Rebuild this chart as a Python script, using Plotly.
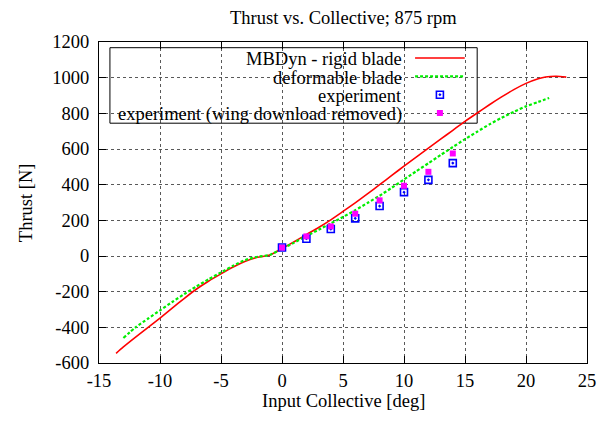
import plotly.graph_objects as go

# ---------------- data ----------------
rigid_x = [-13.6, -13, -12, -11, -10, -9, -8, -7, -6, -5, -4, -3, -2, -1, 0, 1, 2, 3, 4, 5,
           6, 7, 8, 9, 10, 11, 12, 13, 14, 15, 16, 17, 18, 19, 20, 21, 21.6, 22.5, 23.3]
rigid_y = [-546, -510, -455, -402, -348, -292, -237, -185, -140, -100, -62, -30, -7, 5, 42, 80, 120, 160, 203, 250,
           298, 348, 400, 452, 504, 555, 605, 655, 705, 755, 802, 848, 892, 933, 968, 994, 1004, 1008, 1003]

deform_x = [-13, -12, -11, -10, -9, -8, -7, -6, -5, -4, -3, -2, -1, 0, 1, 2, 3, 4, 5, 6, 7, 8,
            9, 10, 11, 12, 13, 14, 15, 16, 17, 18, 19, 20, 21, 21.9]
deform_y = [-460, -400, -352, -305, -258, -213, -170, -130, -92, -55, -22, -4, 6, 40, 75, 112, 147, 183, 219, 257, 297, 338,
            383, 429, 475, 520, 566, 611, 655, 697, 738, 775, 808, 839, 864, 886]

exp_x = [0, 2, 4, 6, 8, 10, 12, 14]
exp_y = [48, 97, 151, 211, 280, 358, 427, 521]

exp_wdr_x = [0, 2, 4, 6, 8, 10, 12, 14]
exp_wdr_y = [47, 110, 166, 237, 312, 394, 472, 575]

series_names = ["MBDyn - rigid blade", "deformable blade", "experiment",
                "experiment (wing download removed)"]

x_ticks = [-15, -10, -5, 0, 5, 10, 15, 20, 25]
x_tick_text = ["-15", "-10", "-5", "0", "5", "10", "15", "20", "25"]
y_ticks = [-600, -400, -200, 0, 200, 400, 600, 800, 1000, 1200]
y_tick_text = ["-600", "-400", "-200", "0", "200", "400", "600", "800", "1000", "1200"]

title_text = "Thrust vs. Collective; 875 rpm"
x_title = "Input Collective [deg]"
y_title = "Thrust [N]"

# ---------------- layout geometry ----------------
# page body adds an 8px offset, so the figure is shifted accordingly
OFF = 8
W, H = 600, 415
L, R, T, B = 99, 590, 42.3, 363.3          # plot area in window pixels
FONT = "Liberation Serif"
FS = 18.5


def px(xp):
    return (xp - L) / (R - L)


def py(yp):
    return (B - yp) / (B - T)


RED = "#ff0000"
GREEN = "#00ee00"
BLUE = "#0000ff"
MAG = "#ff00ff"

fig = go.Figure()
fig.add_trace(go.Scatter(x=rigid_x, y=rigid_y, mode="lines", name=series_names[0],
                         line=dict(color=RED, width=1.6, shape="spline", smoothing=0.6)))
fig.add_trace(go.Scatter(x=deform_x, y=deform_y, mode="lines", name=series_names[1],
                         line=dict(color=GREEN, width=2.2, dash="3px,2px", shape="spline", smoothing=0.6)))
fig.add_trace(go.Scatter(x=exp_x, y=exp_y, mode="markers", name=series_names[2],
                         marker=dict(symbol="square-open-dot", size=7, color=BLUE,
                                     line=dict(width=1.6, color=BLUE))))
fig.add_trace(go.Scatter(x=exp_wdr_x, y=exp_wdr_y, mode="markers", name=series_names[3],
                         marker=dict(symbol="square", size=6, color=MAG, line=dict(width=0))))

# legend samples drawn on an overlay 0..1 axis pair (same as paper)
row_y = [58.3, 76.7, 95.0, 113.3]
fig.add_trace(go.Scatter(x=[px(417), px(467)], y=[py(row_y[0])] * 2, mode="lines",
                         line=dict(color=RED, width=1.6), xaxis="x2", yaxis="y2", hoverinfo="skip"))
fig.add_trace(go.Scatter(x=[px(417), px(467)], y=[py(row_y[1])] * 2, mode="lines",
                         line=dict(color=GREEN, width=2.2, dash="3px,2px"), xaxis="x2", yaxis="y2",
                         hoverinfo="skip"))
fig.add_trace(go.Scatter(x=[px(442)], y=[py(row_y[2])], mode="markers",
                         marker=dict(symbol="square-open-dot", size=7, color=BLUE,
                                     line=dict(width=1.6, color=BLUE)),
                         xaxis="x2", yaxis="y2", hoverinfo="skip"))
fig.add_trace(go.Scatter(x=[px(442)], y=[py(row_y[3])], mode="markers",
                         marker=dict(symbol="square", size=6, color=MAG, line=dict(width=0)),
                         xaxis="x2", yaxis="y2", hoverinfo="skip"))

annotations = []
for name, yy in zip(series_names, row_y):
    annotations.append(dict(text=name, x=px(406), y=py(yy + 1.5), xref="paper", yref="paper",
                            xanchor="right", yanchor="middle", showarrow=False,
                            font=dict(family=FONT, size=FS, color="black")))
annotations.append(dict(text=title_text, x=px(344.5), y=py(18), xref="paper", yref="paper",
                        xanchor="center", yanchor="middle", showarrow=False,
                        font=dict(family=FONT, size=FS, color="black")))
annotations.append(dict(text=x_title, x=px(345), y=py(401), xref="paper", yref="paper",
                        xanchor="center", yanchor="middle", showarrow=False,
                        font=dict(family=FONT, size=FS, color="black")))
annotations.append(dict(text=y_title, x=px(25), y=py(203), xref="paper", yref="paper",
                        xanchor="center", yanchor="middle", showarrow=False, textangle=-90,
                        font=dict(family=FONT, size=FS, color="black")))

shapes = [dict(type="rect", xref="paper", yref="paper", x0=px(110), x1=px(479.5),
               y0=py(123.5), y1=py(48), line=dict(color="black", width=1),
               fillcolor="white", layer="between")]

axis_common = dict(showline=True, linecolor="black", linewidth=1.2, mirror="ticks",
                   ticks="inside", ticklen=7, tickcolor="black", tickwidth=1,
                   showgrid=True, gridcolor="rgba(0,0,0,0.65)", gridwidth=1, griddash="dot",
                   zeroline=False, tickfont=dict(family=FONT, size=FS, color="black"))

fig.update_layout(
    width=W, height=H,
    margin=dict(l=L - OFF, r=W - (R - OFF), t=T - OFF, b=H - (B - OFF), pad=0),
    paper_bgcolor="white", plot_bgcolor="white",
    showlegend=False,
    xaxis=dict(range=[-15, 25], tickvals=x_ticks, ticktext=x_tick_text, ticklabelstandoff=1,
               **axis_common),
    yaxis=dict(range=[-600, 1200], tickvals=y_ticks, ticktext=y_tick_text, ticklabelstandoff=5,
               **axis_common),
    xaxis2=dict(range=[0, 1], overlaying="x", visible=False),
    yaxis2=dict(range=[0, 1], overlaying="y", visible=False),
    annotations=annotations,
    shapes=shapes,
)

fig.write_html("out.html")
